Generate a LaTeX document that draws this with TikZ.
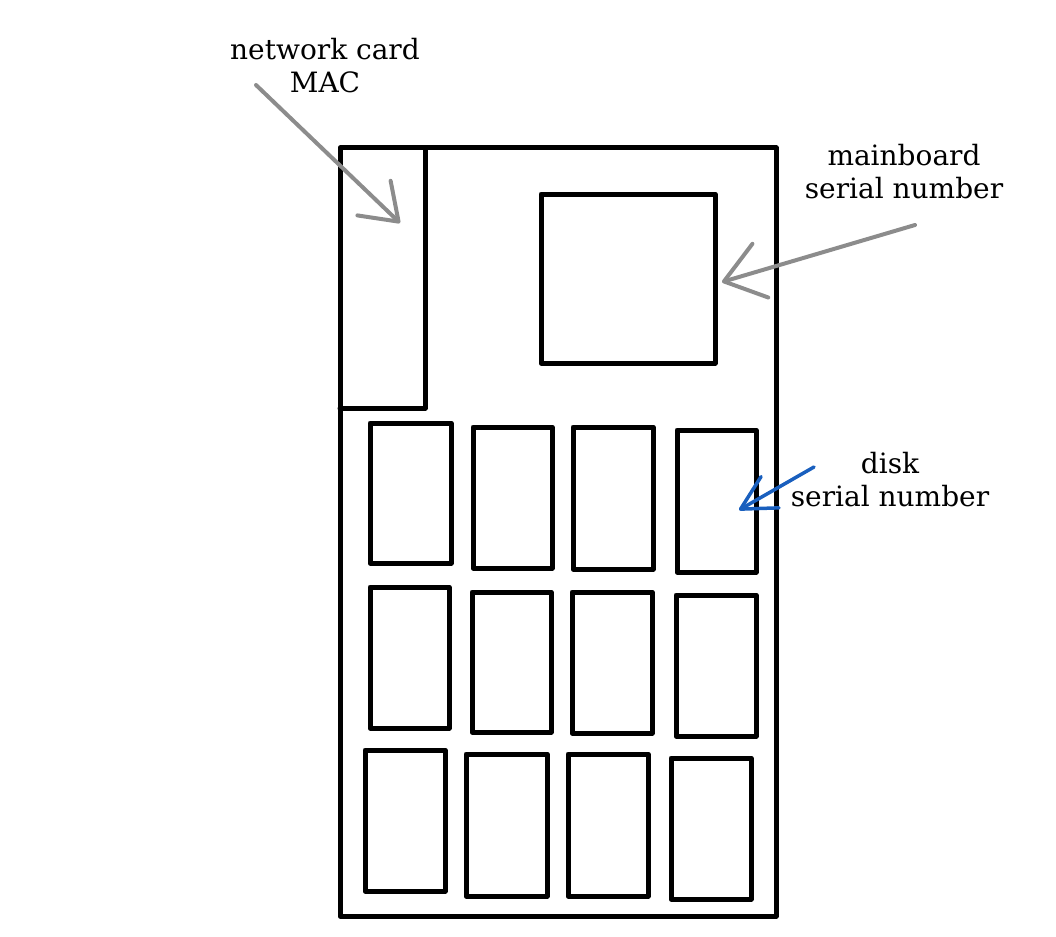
\documentclass[tikz,border=0pt]{standalone}
\usepackage{fontspec}
\setmainfont{DejaVu Serif}
\usetikzlibrary{arrows.meta}
\definecolor{pengray}{RGB}{140,140,140}
\definecolor{penblue}{RGB}{25,95,190}
\tikzstyle{part}=[draw, line width=5pt, line join=round, line cap=round]
\tikzstyle{note}=[align=center, inner sep=0pt, anchor=north, font=\fontsize{28}{33}\selectfont]
\tikzstyle{pointer}=[line width=4pt, line cap=round]

\begin{document}
\begin{tikzpicture}[x=1pt, y=-1pt]
    \useasboundingbox (0,0) rectangle (1056,936);
    % case
    \draw[part] (340,148) rectangle (776,916);
    % network card
    \draw[part] (340,408) -| (425,148);
    % mainboard chip
    \draw[part] (541,194) rectangle (715,363);
    % disks
    \foreach \xa/\ya/\xb/\yb in {370/423/451/563, 473/427/552/568, 573/427/653/569, 677/430/756/572,
                                 370/587/449/728, 472/592/551/732, 572/592/652/733, 676/595/756/736,
                                 365/750/445/891, 466/754/547/896, 568/754/648/896, 671/758/751/899}
        \draw[part] (\xa,\ya) rectangle (\xb,\yb);

    \node[note] (mac) at (325,38) {network card\\MAC};
    \node[note] (board) at (904,144) {mainboard\\serial number};
    \node[note] (disk) at (890,452) {disk\\serial number};

    \coordinate (macfrom) at (256,85);
    \coordinate (macto) at (400,223);
    \coordinate (boardfrom) at (915,225);
    \coordinate (boardto) at (722,282);
    \coordinate (diskfrom) at (814,467);
    \coordinate (diskto) at (739,510);
    \draw[pointer, pengray, -{Straight Barb[length=34pt, width=48pt, round]}] (macfrom) -- (macto);
    \draw[pointer, pengray, -{Straight Barb[length=38pt, width=56pt, round]}] (boardfrom) -- (boardto);
    \draw[pointer, penblue, line width=3.5pt, -{Straight Barb[length=34pt, width=36pt, round]}] (diskfrom) -- (diskto);
\end{tikzpicture}
\end{document}
